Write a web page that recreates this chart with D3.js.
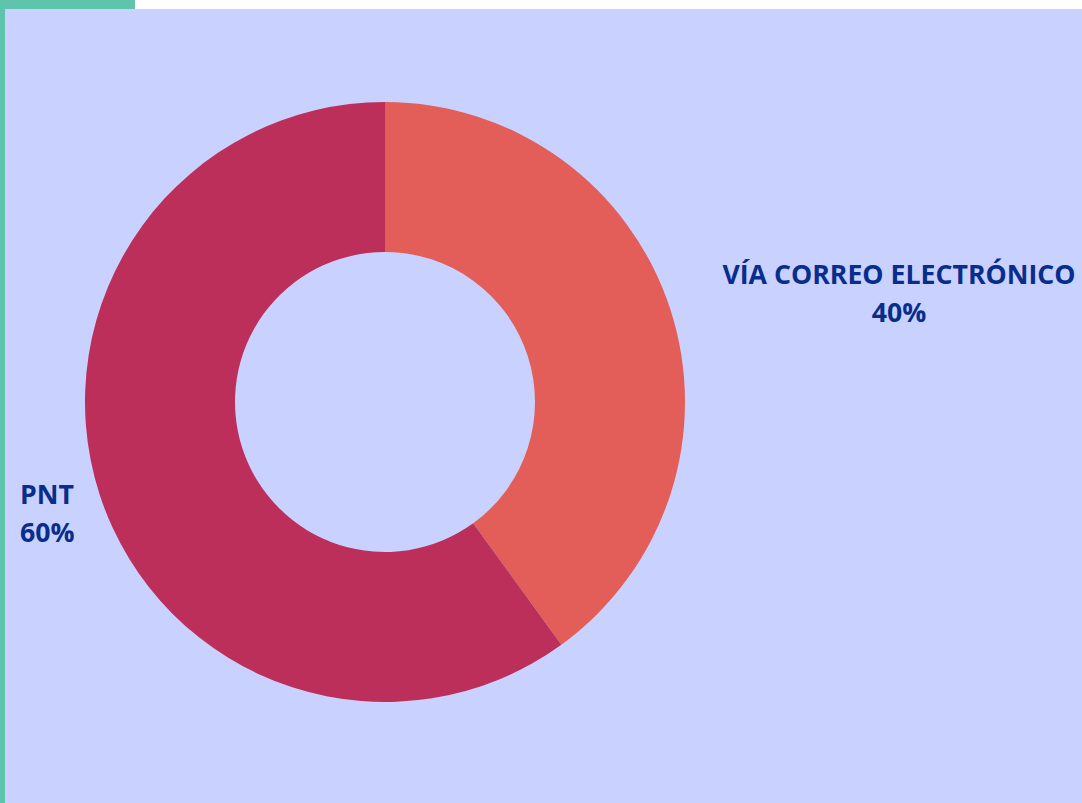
<!DOCTYPE html>
<html><head><meta charset="utf-8">
<script src="https://cdn.jsdelivr.net/npm/d3@7"></script>
<style>html,body{margin:0;padding:0;background:#fff;}svg{display:block;}</style>
</head><body>
<svg id="c" width="1082" height="803"></svg>
<script>
const categories = ["VÍA CORREO ELECTRÓNICO", "PNT"];
const values = [40, 60];
const colors = ["#E45E59", "#BB2F5A"];

const svg = d3.select("#c");
svg.append("rect").attr("x",0).attr("y",0).attr("width",135).attr("height",9).attr("fill","#5EC4AC");
svg.append("rect").attr("x",0).attr("y",0).attr("width",5).attr("height",803).attr("fill","#5EC4AC");
svg.append("rect").attr("x",5).attr("y",9).attr("width",1077).attr("height",794).attr("fill","#C9D1FF");

const cx = 385, cy = 402, R = 300, r = 150;
const pie = d3.pie().sort(null).value(d => d)(values);
const arc = d3.arc().innerRadius(r).outerRadius(R);
const g = svg.append("g").attr("transform", `translate(${cx},${cy})`);
g.selectAll("path").data(pie).join("path").attr("d", arc).attr("fill", (d,i) => colors[i]);

const labels = [
  {x: 899, y: 284, anchor: "middle"},
  {x: 20, y: 504, anchor: "start"}
];
const lab = svg.append("g").attr("font-family","'Open Sans', sans-serif").attr("font-weight","bold").attr("font-size","26.7px").attr("fill","#082D8C");
pie.forEach((d,i) => {
  const t = lab.append("text").attr("x", labels[i].x).attr("y", labels[i].y).attr("text-anchor", labels[i].anchor);
  t.append("tspan").attr("x", labels[i].x).text(categories[i]);
  t.append("tspan").attr("x", labels[i].x).attr("dy", 37.5).text(values[i] + "%");
});
</script>
</body></html>
